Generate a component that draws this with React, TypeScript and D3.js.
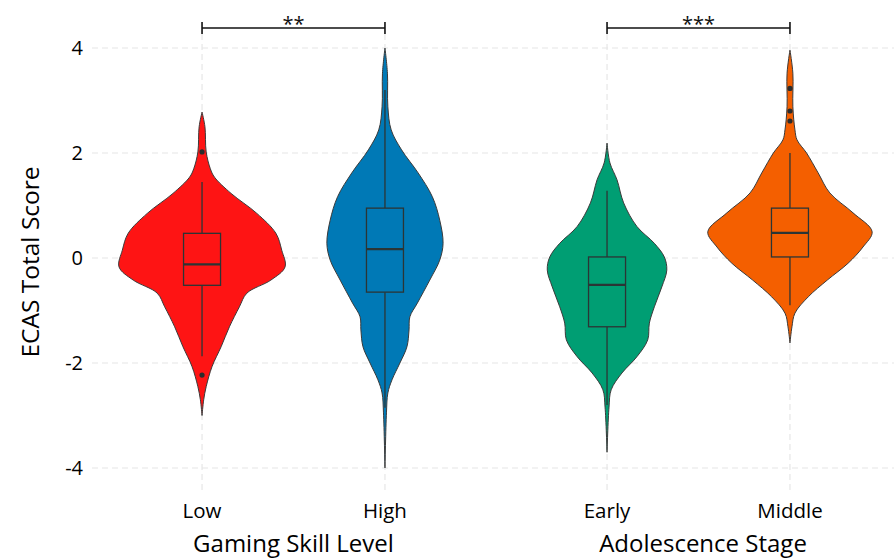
import React from "react";
import * as d3 from "d3";

// ---- Data ----
const groups = ["Gaming Skill Level", "Adolescence Stage"];
const categories = ["Low", "High", "Early", "Middle"];
const categoryGroup = ["Gaming Skill Level", "Gaming Skill Level", "Adolescence Stage", "Adolescence Stage"];
const colors = ["#fe1414", "#0079b6", "#009e73", "#f45f00"];
const yTicks = [-4, -2, 0, 2, 4];

// Violin outlines: [score, relative density]
const densityLow: [number, number][] = [
  [2.78, 0], [2.5, 0.035], [2.02, 0.05], [1.7, 0.1], [1.54, 0.15], [1.23, 0.35], [0.85, 0.66], [0.47, 0.89],
  [0.15, 0.96], [-0.17, 1.0], [-0.42, 0.83], [-0.67, 0.54], [-0.93, 0.45], [-1.31, 0.33],
  [-1.69, 0.23], [-2.07, 0.12], [-2.45, 0.05], [-2.7, 0.02], [-3.0, 0],
];
const densityHigh: [number, number][] = [
  [4.0, 0], [3.52, 0.03], [2.88, 0.035], [2.44, 0.075], [2.06, 0.2], [1.62, 0.4], [1.17, 0.57],
  [0.72, 0.66], [0.28, 0.7], [-0.04, 0.66], [-0.42, 0.54], [-0.86, 0.39], [-1.12, 0.3],
  [-1.37, 0.29], [-1.69, 0.265], [-2.0, 0.18], [-2.32, 0.085], [-2.57, 0.035], [-2.95, 0.018], [-4.0, 0],
];
const densityEarly: [number, number][] = [
  [2.19, 0], [1.81, 0.035], [1.49, 0.12], [1.05, 0.2], [0.6, 0.36], [0.28, 0.57], [0.02, 0.69],
  [-0.23, 0.72], [-0.55, 0.66], [-0.93, 0.57], [-1.24, 0.51], [-1.56, 0.49], [-1.88, 0.36],
  [-2.19, 0.18], [-2.51, 0.05], [-2.84, 0.024], [-3.7, 0],
];
const densityMiddle: [number, number][] = [
  [3.96, 0], [3.52, 0.035], [2.88, 0.035], [2.44, 0.06], [2.25, 0.085], [2.0, 0.2], [1.62, 0.34],
  [1.24, 0.48], [0.86, 0.76], [0.5, 0.99], [0.21, 0.88], [-0.1, 0.7], [-0.42, 0.45],
  [-0.74, 0.22], [-1.05, 0.06], [-1.31, 0.024], [-1.62, 0],
];
const densities = [densityLow, densityHigh, densityEarly, densityMiddle];

// Box statistics
const q1 = [-0.52, -0.65, -1.31, 0.02];
const medians = [-0.12, 0.17, -0.51, 0.48];
const q3 = [0.47, 0.95, 0.02, 0.95];
const whiskerLow = [-1.87, -2.85, -2.8, -0.9];
const whiskerHigh = [1.45, 3.2, 1.28, 2.0];
const outliers = [[2.02, -2.23], [], [], [3.23, 2.8, 2.61]];

// Significance
const comparisons: { a: string; b: string; label: string }[] = [
  { a: "Low", b: "High", label: "**" },
  { a: "Early", b: "Middle", label: "***" },
];

const W = 894;
const H = 560;
const FONT = "'Open Sans', 'DejaVu Sans', sans-serif";

export default function App() {
  const y = d3.scaleLinear().domain([-4, 4]).range([468, 48]);
  const outer = d3.scaleBand<string>().domain(groups).range([91, 901]).padding(0);
  const inner = d3.scalePoint<string>().domain(["a", "b"]).range([0, outer.bandwidth()]).padding(0.607);
  const xOf = (i: number) => {
    const g = categoryGroup[i];
    const idx = categories.filter((_, j) => categoryGroup[j] === g).indexOf(categories[i]);
    return (outer(g) as number) + (inner(idx === 0 ? "a" : "b") as number);
  };
  const wScale = d3.scaleLinear().domain([0, 1]).range([0, 83]);
  const boxHalf = 18.5;

  const gridColor = "#e6e6e6";

  return (
    <svg width={W} height={H} style={{ position: "absolute", left: 0, top: 0, background: "#fff" }}>
      <rect width={W} height={H} fill="#fff" />
      {/* horizontal grid */}
      {yTicks.map((t) => (
        <line key={"h" + t} x1={92} x2={894} y1={y(t)} y2={y(t)} stroke={gridColor} strokeWidth={1.2} strokeDasharray="6,4" />
      ))}
      {/* vertical grid */}
      {categories.map((c, i) => (
        <line key={"v" + c} x1={xOf(i)} x2={xOf(i)} y1={34} y2={490} stroke={gridColor} strokeWidth={1.2} strokeDasharray="6,4" />
      ))}
      {/* y tick labels */}
      {yTicks.map((t) => (
        <text key={"yt" + t} x={83} y={y(t)} dy="0.36em" textAnchor="end" fontFamily={FONT} fontSize={20} fill="#000">
          {t}
        </text>
      ))}
      {/* y title */}
      <text transform={`translate(39,262) rotate(-90)`} textAnchor="middle" fontFamily={FONT} fontSize={24.5} fill="#000">
        ECAS Total Score
      </text>
      {/* violins */}
      {categories.map((c, i) => {
        const cx = xOf(i);
        const area = d3
          .area<[number, number]>()
          .y((d) => y(d[0]))
          .x0((d) => cx - wScale(d[1]))
          .x1((d) => cx + wScale(d[1]))
          .curve(d3.curveCatmullRom.alpha(0.5));
        return (
          <g key={"vio" + c}>
            <path d={area(densities[i]) || ""} fill={colors[i]} stroke="#3a3a3a" strokeWidth={1} />
            {/* whiskers */}
            <line x1={cx} x2={cx} y1={y(q3[i])} y2={y(whiskerHigh[i])} stroke="#2b3535" strokeWidth={1.3} />
            <line x1={cx} x2={cx} y1={y(q1[i])} y2={y(whiskerLow[i])} stroke="#2b3535" strokeWidth={1.3} />
            {/* box */}
            <rect
              x={cx - boxHalf}
              y={y(q3[i])}
              width={boxHalf * 2}
              height={y(q1[i]) - y(q3[i])}
              fill={colors[i]}
              stroke="#2b3535"
              strokeWidth={1.3}
            />
            <line x1={cx - boxHalf} x2={cx + boxHalf} y1={y(medians[i])} y2={y(medians[i])} stroke="#2b3535" strokeWidth={2.2} />
            {outliers[i].map((o, k) => (
              <circle key={k} cx={cx} cy={y(o)} r={2.6} fill="#2b2b2b" />
            ))}
          </g>
        );
      })}
      {/* x tick labels */}
      {categories.map((c, i) => (
        <text key={"xt" + c} x={xOf(i)} y={518} textAnchor="middle" fontFamily={FONT} fontSize={20.5} fill="#000">
          {c}
        </text>
      ))}
      {/* x titles */}
      <text x={293.5} y={552} textAnchor="middle" fontFamily={FONT} fontSize={24} fill="#000">
        {groups[0]}
      </text>
      <text x={703} y={552} textAnchor="middle" fontFamily={FONT} fontSize={24} fill="#000">
        {groups[1]}
      </text>
      {/* significance brackets */}
      {comparisons.map((cmp) => {
        const xa = xOf(categories.indexOf(cmp.a));
        const xb = xOf(categories.indexOf(cmp.b));
        return (
          <g key={cmp.label}>
            <line x1={xa} x2={xb} y1={28} y2={28} stroke="#111" strokeWidth={1.6} />
            <line x1={xa} x2={xa} y1={22} y2={34} stroke="#111" strokeWidth={1.6} />
            <line x1={xb} x2={xb} y1={22} y2={34} stroke="#111" strokeWidth={1.6} />
            <text x={(xa + xb) / 2} y={31} textAnchor="middle" fontFamily={FONT} fontSize={20} fill="#111">
              {cmp.label}
            </text>
          </g>
        );
      })}
    </svg>
  );
}
